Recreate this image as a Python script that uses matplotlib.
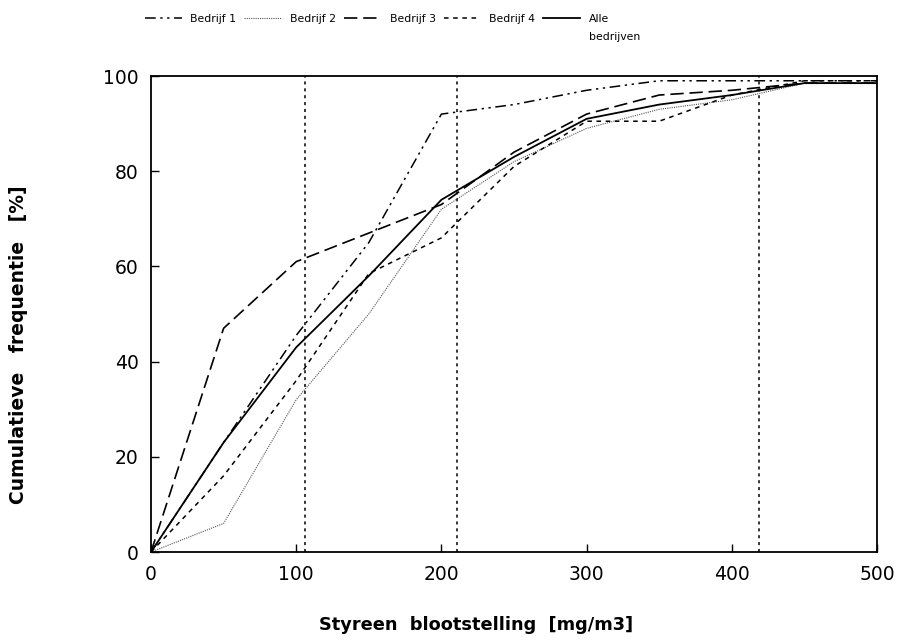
# Cumulatieve frequentie van styreen blootstelling per bedrijf
import matplotlib
matplotlib.use("Agg")
from matplotlib import pyplot as plt

x = [0, 50, 100, 150, 200, 250, 300, 350, 400, 450, 500]

bedrijf_1 = [0, 23, 45.5, 65, 92, 94, 97, 99, 99, 99, 99]
bedrijf_2 = [0, 6, 32, 50, 72, 82, 89, 93, 95, 98.5, 98.5]
bedrijf_3 = [0, 47, 61, 67, 73, 84, 92, 96, 97, 98.5, 98.5]
bedrijf_4 = [0, 16, 36, 58.5, 66, 81, 90.5, 90.5, 96, 99, 99]
alle = [0, 23, 43, 58, 74, 83, 91, 94, 96, 98.5, 98.5]

grenzen = [106, 211, 419]

labels = ['Bedrijf 1', 'Bedrijf 2', 'Bedrijf 3', 'Bedrijf 4', 'Alle']

fig = plt.figure(figsize=(8.99, 6.43), dpi=100)
ax = fig.add_axes([151 / 899, 1 - 552 / 643, 726 / 899, 476 / 643])

ax.plot(x, bedrijf_1, color='black', lw=1.1, ls=(0, (7, 3, 1.5, 3, 1.5, 3)), label=labels[0])
ax.plot(x, bedrijf_2, color='#555555', lw=0.8, ls=(0, (1, 1)), label=labels[1])
ax.plot(x, bedrijf_3, color='black', lw=1.2, ls=(0, (8, 3.5)), label=labels[2])
ax.plot(x, bedrijf_4, color='black', lw=1.1, ls=(0, (3, 3)), label=labels[3])
ax.plot(x, alle, color='black', lw=1.3, ls='-', label=labels[4])

for g in grenzen:
    ax.axvline(g, color='black', lw=1.1, ls=(0, (2, 2.5)))

ax.set_xlim(0, 500)
ax.set_ylim(0, 100)
ax.set_xticks([0, 100, 200, 300, 400, 500])
ax.set_yticks([0, 20, 40, 60, 80, 100])
ax.tick_params(direction='in', length=6, width=1, labelsize=13.5, pad=9)
for s in ax.spines.values():
    s.set_linewidth(1.3)

ax.set_xlabel('Styreen  blootstelling  [mg/m3]', fontsize=12.8, fontweight='bold')
ax.set_ylabel('Cumulatieve   frequentie   [%]', fontsize=13.5, fontweight='bold')
ax.xaxis.set_label_coords(0.448, -0.135)
ax.yaxis.set_label_coords(-0.169, 0.435)

leg = fig.legend(loc='upper left', bbox_to_anchor=(135 / 899, 1 - 4 / 643), ncol=5,
                 frameon=False, fontsize=7.8, handlelength=3.4, handletextpad=0.8,
                 columnspacing=0.75)
# tweede regel van het laatste label onder "Alle"
fig.add_artist(plt.Annotation('bedrijven', xy=(0, 0), xycoords=leg.texts[-1],
                              xytext=(0, -6), textcoords='offset points',
                              va='top', ha='left', fontsize=7.8, zorder=10))

plt.savefig('out.png', dpi=100)
